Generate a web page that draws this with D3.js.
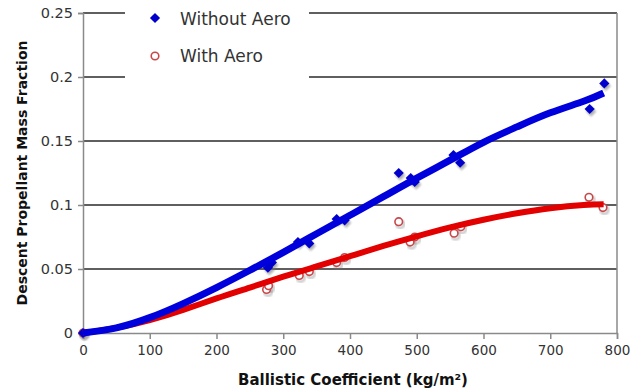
<!DOCTYPE html>
<html><head><meta charset="utf-8">
<script src="https://cdn.jsdelivr.net/npm/d3@7/dist/d3.min.js"></script>
<style>body{margin:0;background:#fff}svg{display:block}</style>
</head><body><div id="chart"></div>
<script>
// Data
const seriesNames = ["Without Aero", "With Aero"];
const noAeroX = [0, 277, 283, 322, 339, 380, 392, 473, 491, 497, 555, 565, 759, 781];
const noAeroY = [0, 0.051, 0.055, 0.071, 0.070, 0.089, 0.088, 0.125, 0.121, 0.118, 0.139, 0.133, 0.175, 0.195];
const aeroX = [0, 275, 278, 324, 339, 380, 392, 473, 490, 497, 556, 566, 758, 779];
const aeroY = [0, 0.034, 0.037, 0.045, 0.048, 0.055, 0.059, 0.087, 0.071, 0.075, 0.078, 0.083, 0.106, 0.098];
// trend lines
const trendX = [0, 50, 100, 150, 200, 250, 300, 350, 400, 450, 500, 550, 600, 650, 700, 750, 780];
const noAeroTrend = [0, 0.004, 0.012, 0.023, 0.0355, 0.049, 0.063, 0.0775, 0.092, 0.1065, 0.121, 0.135, 0.149, 0.161, 0.172, 0.181, 0.1875];
const aeroTrend = [0, 0.004, 0.010, 0.018, 0.027, 0.0355, 0.044, 0.052, 0.060, 0.068, 0.0755, 0.0825, 0.0885, 0.0935, 0.0975, 0.100, 0.1005];
const xTicks = [0, 100, 200, 300, 400, 500, 600, 700, 800];
const yTicks = [0, 0.05, 0.1, 0.15, 0.2, 0.25];
const yTickLabels = ["0", "0.05", "0.1", "0.15", "0.2", "0.25"];

const W = 643, H = 390;
const FONT = "'DejaVu Sans', Verdana, sans-serif";
const svg = d3.select("#chart").append("svg").attr("width", W).attr("height", H)
  .style("font-family", FONT);

const x = d3.scaleLinear().domain([0, 800]).range([83, 617]);
const y = d3.scaleLinear().domain([0, 0.25]).range([333, 13]);

const defs = svg.append("defs");
defs.append("filter").attr("id", "blur").append("feGaussianBlur").attr("stdDeviation", 0.8);

// gridlines
svg.append("g").selectAll("line").data(yTicks.slice(1)).join("line")
  .attr("x1", x(0)).attr("x2", x(800))
  .attr("y1", d => y(d)).attr("y2", d => y(d))
  .attr("stroke", "#2a2a2a").attr("stroke-width", 1.5);

// right border
svg.append("line").attr("x1", x(800)).attr("x2", x(800)).attr("y1", y(0.25)).attr("y2", y(0))
  .attr("stroke", "#8a8a8a").attr("stroke-width", 1.5);

// axes
const xAxis = d3.axisBottom(x).tickValues(xTicks).tickSize(6).tickPadding(6).tickFormat(d3.format("d"));
const gx = svg.append("g").attr("transform", `translate(0,${y(0)})`).call(xAxis);
gx.select(".domain").attr("stroke", "#8a8a8a").attr("stroke-width", 1.5);
gx.selectAll(".tick line").attr("stroke", "#8a8a8a").attr("stroke-width", 1.5);
gx.selectAll("text").attr("font-size", 13.5).attr("fill", "#333").attr("font-family", FONT);

const yAxis = d3.axisLeft(y).tickValues(yTicks).tickSize(5).tickPadding(5).tickFormat((d, i) => yTickLabels[i]);
const gy = svg.append("g").attr("transform", `translate(${x(0)},0)`).call(yAxis);
gy.select(".domain").attr("stroke", "#8a8a8a").attr("stroke-width", 1.5);
gy.selectAll(".tick line").attr("stroke", "#8a8a8a").attr("stroke-width", 1.5);
gy.selectAll("text").attr("font-size", 14.5).attr("fill", "#333").attr("font-family", FONT);

// legend box (white, covers gridlines)
svg.append("rect").attr("x", 125).attr("y", 0).attr("width", 184).attr("height", 86).attr("fill", "#fff");

// marker helpers
const diamond = d3.symbol().type(d3.symbolSquare).size(52);
function drawDiamonds(g, xs, ys, color) {
  g.selectAll("path.sh").data(xs).join("path").attr("class", "sh")
    .attr("d", diamond).attr("transform", (d, i) => `translate(${x(d) + 1.5},${y(ys[i]) + 2.5}) rotate(45)`)
    .attr("fill", "#777").attr("opacity", 0.6).attr("filter", "url(#blur)");
  g.selectAll("path.mk").data(xs).join("path").attr("class", "mk")
    .attr("d", diamond).attr("transform", (d, i) => `translate(${x(d)},${y(ys[i])}) rotate(45)`)
    .attr("fill", color);
}
function drawCircles(g, xs, ys, color) {
  g.selectAll("circle.sh").data(xs).join("circle").attr("class", "sh")
    .attr("cx", d => x(d) + 1.5).attr("cy", (d, i) => y(ys[i]) + 2.5).attr("r", 3.8)
    .attr("fill", "none").attr("stroke", "#777").attr("stroke-width", 1.8).attr("opacity", 0.6).attr("filter", "url(#blur)");
  g.selectAll("circle.mk").data(xs).join("circle").attr("class", "mk")
    .attr("cx", d => x(d)).attr("cy", (d, i) => y(ys[i])).attr("r", 3.8)
    .attr("fill", "#fff").attr("stroke", color).attr("stroke-width", 1.6);
}

// points
drawCircles(svg.append("g"), aeroX, aeroY, "#c8474a");
drawDiamonds(svg.append("g"), noAeroX, noAeroY, "#0000cc");

// trend lines
const line = ys => d3.line().x((d) => x(d)).y((d, i) => y(ys[i])).curve(d3.curveNatural);
svg.append("path").attr("d", line(aeroTrend)(trendX)).attr("fill", "none")
  .attr("stroke", "#e20000").attr("stroke-width", 6).attr("stroke-linecap", "butt");
svg.append("path").attr("d", line(noAeroTrend)(trendX)).attr("fill", "none")
  .attr("stroke", "#0000dd").attr("stroke-width", 7).attr("stroke-linecap", "butt");

// legend
const lg = svg.append("g");
lg.append("path").attr("d", diamond).attr("transform", "translate(155,18) rotate(45)").attr("fill", "#0000cc");
lg.append("circle").attr("cx", 155).attr("cy", 56).attr("r", 3.8).attr("fill", "#fff")
  .attr("stroke", "#c8474a").attr("stroke-width", 1.6);
lg.selectAll("text").data(seriesNames).join("text")
  .attr("x", 180).attr("y", (d, i) => 25 + i * 37)
  .attr("font-size", 17).attr("fill", "#333").text(d => d);

// axis titles
svg.append("text").attr("x", 353).attr("y", 385).attr("text-anchor", "middle")
  .attr("font-weight", "bold").attr("font-size", 15).attr("fill", "#111")
  .text("Ballistic Coefficient (kg/m²)");
svg.append("text").attr("transform", `translate(27,${y(0.125)}) rotate(-90)`).attr("text-anchor", "middle")
  .attr("font-weight", "bold").attr("font-size", 14).attr("fill", "#111")
  .text("Descent Propellant Mass Fraction");
</script></body></html>
